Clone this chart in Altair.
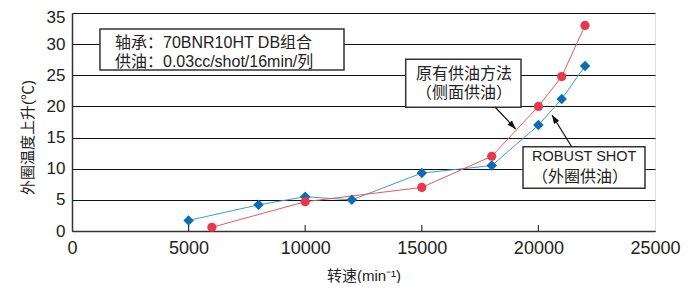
import altair as alt
import pandas as pd

# ---- data ----
red_speed = [6000, 10000, 15000, 18000, 20000, 21000, 22000]
red_temp = [0.6, 4.7, 7.0, 12.0, 20.0, 24.8, 33.0]
blue_speed = [5000, 8000, 10000, 12000, 15000, 18000, 20000, 21000, 22000]
blue_temp = [1.7, 4.2, 5.5, 5.0, 9.3, 10.5, 17.0, 21.2, 26.5]
x_ticks = [0, 5000, 10000, 15000, 20000, 25000]
y_ticks = [0, 5, 10, 15, 20, 25, 30, 35]
inner_ticks = [5000, 10000, 15000, 20000]

box_x = [1200, 14310, 19340]
box_x2 = [11664, 19254, 24571]
box_y = [32.43, 27.57, 13.53]
box_y2 = [25.85, 19.86, 6.86]

txt_x = [1844, 1844, 14751, 14751, 19726]
txt_y = [30.18, 27.13, 25.21, 22.16, 8.67]
txt = ["轴承：70BNR10HT DB组合", "供油：0.03cc/shot/16min/列",
       "原有供油方法", "（侧面供油）", "（外圈供油）"]
txt2_x = [19726]
txt2_y = [11.88]
txt2 = ["ROBUST SHOT"]

arr_x = [18139, 21428]
arr_y = [19.91, 13.53]
arr_x2 = [19026, 20583]
arr_y2 = [16.38, 18.62]
arr_angle = [136.7, 328.0]

FONT = "Liberation Sans, Noto Sans CJK SC"
W, H = 583, 218

red = pd.DataFrame({"speed": red_speed, "temp": red_temp})
blue = pd.DataFrame({"speed": blue_speed, "temp": blue_temp})
boxes = pd.DataFrame({"x": box_x, "x2": box_x2, "y": box_y, "y2": box_y2})
texts = pd.DataFrame({"x": txt_x, "y": txt_y, "t": txt})
texts2 = pd.DataFrame({"x": txt2_x, "y": txt2_y, "t": txt2})
arrows = pd.DataFrame({"x": arr_x, "y": arr_y, "x2": arr_x2, "y2": arr_y2, "a": arr_angle})
ticks = pd.DataFrame({"x": inner_ticks})

xs = alt.Scale(domain=[0, 25000], nice=False)
ys = alt.Scale(domain=[0, 35], nice=False)

XT = "转速(min⁻¹)"
YT = "外圈温度上升(℃)"

xaxis = alt.Axis(values=x_ticks, format="d", title=XT, grid=False, ticks=False,
                 labelFontSize=18, labelPadding=8, labelColor="#222", labelFont=FONT,
                 labelOverlap=False, labelFlush=False,
                 domainColor="#333", domainWidth=1.5,
                 titleFont=FONT, titleFontSize=15, titleFontWeight="normal", titleColor="#222",
                 titleY=44, titleBaseline="middle")
yaxis = alt.Axis(values=y_ticks, title=YT, grid=True, gridColor="#111", gridWidth=1.2,
                 ticks=False, labelFontSize=17, labelPadding=7, labelColor="#222", labelFont=FONT,
                 labelOverlap=False, labelFlush=False,
                 labelOffset={"condition": {"test": "datum.value == 35", "value": 4}, "value": 0},
                 domainColor="#333", domainWidth=1.5,
                 titleFont=FONT, titleFontSize=15, titleFontWeight="normal", titleColor="#222",
                 titleAngle=270, titleX=-45, titleY=124, titleBaseline="middle", titleAlign="center")


def XA(f):
    return alt.X(f, scale=xs, axis=xaxis, title=XT)


def YA(f):
    return alt.Y(f, scale=ys, axis=yaxis, title=YT)


blue_line = alt.Chart(blue).mark_line(color="#3d9ad6", strokeWidth=1).encode(x=XA("speed:Q"), y=YA("temp:Q"))
blue_pts = alt.Chart(blue).mark_point(shape="diamond", filled=True, color="#0a6db5", size=110, opacity=1).encode(
    x=XA("speed:Q"), y=YA("temp:Q"))
red_line = alt.Chart(red).mark_line(color="#f0555a", strokeWidth=1).encode(x=XA("speed:Q"), y=YA("temp:Q"))
red_pts = alt.Chart(red).mark_point(shape="circle", filled=True, color="#e8394a", size=85, opacity=1).encode(
    x=XA("speed:Q"), y=YA("temp:Q"))

tick_rules = alt.Chart(ticks).mark_rule(color="#333", strokeWidth=1.2).encode(
    x=XA("x:Q"), y=alt.value(H), y2=alt.value(H - 6))

box_marks = alt.Chart(boxes).mark_rect(fill="white", stroke="#333", strokeWidth=1.5).encode(
    x=XA("x:Q"), x2="x2:Q", y=YA("y:Q"), y2="y2:Q")

text_marks = alt.Chart(texts).mark_text(align="left", baseline="middle", font=FONT, fontSize=16, color="#222").encode(
    x=XA("x:Q"), y=YA("y:Q"), text="t:N")
text_marks2 = alt.Chart(texts2).mark_text(align="left", baseline="middle", font=FONT, fontSize=14.5, color="#222").encode(
    x=XA("x:Q"), y=YA("y:Q"), text="t:N")

arrow_lines = alt.Chart(arrows).mark_rule(color="#111", strokeWidth=1.2).encode(
    x=XA("x:Q"), y=YA("y:Q"), x2="x2:Q", y2="y2:Q")
arrow_heads = alt.Chart(arrows).mark_point(shape="M0,0 L-0.35,1 L0.35,1 Z", filled=True, color="#111",
                                           size=300, opacity=1).encode(
    x=XA("x2:Q"), y=YA("y2:Q"), angle=alt.Angle("a:Q", scale=None))

chart = alt.layer(
    blue_line, red_line, blue_pts, red_pts, tick_rules, box_marks, text_marks, text_marks2,
    arrow_lines, arrow_heads
).properties(
    width=W, height=H,
    autosize=alt.AutoSizeParams(type="none"),
    padding={"left": 64, "top": 5, "right": 35, "bottom": 52},
).configure_view(stroke="#333", strokeWidth=1.5).configure(background="white")

chart.save("out.html", embed_options={"renderer": "svg", "actions": False})
